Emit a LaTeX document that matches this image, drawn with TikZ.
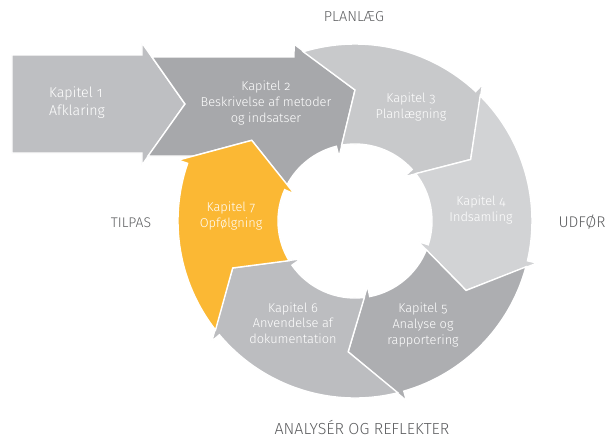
\documentclass[tikz,border=0pt]{standalone}
\usepackage{fontspec}
\setmainfont{Fira Sans Light}[Numbers=OldStyle]
\usepackage{tikz}

\definecolor{kapA}{HTML}{BEBFC2}
\definecolor{kapB}{HTML}{A7A8AB}
\definecolor{kapC}{HTML}{C8C9CB}
\definecolor{kapD}{HTML}{D2D3D5}
\definecolor{kapE}{HTML}{ADAEB1}
\definecolor{kapF}{HTML}{BCBDC0}
\definecolor{kapG}{HTML}{FBB834}
\definecolor{fasegray}{HTML}{5E5F61}

\begin{document}
\begin{tikzpicture}[x=1pt, y=1pt,
    kapitel/.style={draw=white, line width=1.4pt, line join=miter},
    kaptext/.style={text=white, align=center, inner sep=0pt, font=\fontsize{12.8}{15.6}\selectfont},
    fase/.style={text=fasegray, inner sep=0pt, font=\fontsize{14.5}{16}\selectfont}]
    \useasboundingbox (-355,-216) rectangle (253,221);

    \draw [kapitel, fill=kapA] (-343,166) -- (-213,166) -- (-213,178) -- (-170,117) -- (-213,56) -- (-213,68) -- (-343,68) -- cycle;
    \draw [kapitel, fill=kapB] (-203,164) -- (-61,164) -- (109:187) -- (90:131) -- (104:66) -- (104:77) arc[start angle=104, end angle=152, radius=77] -- (142:131) -- (-161.6,65) -- (-207,65) -- (-170,117) -- cycle;
    \draw [kapitel, fill=kapC] (107:177) arc[start angle=107, end angle=47, radius=177] -- (47:187) -- (28:131) -- (42:66) -- (42:77) arc[start angle=42, end angle=100, radius=77] -- (90:131) -- cycle;
    \draw [kapitel, fill=kapD] (45:177) arc[start angle=45, end angle=-13, radius=177] -- (-13:187) -- (-32:131) -- (-18:66) -- (-18:77) arc[start angle=-18, end angle=38, radius=77] -- (28:131) -- cycle;
    \draw [kapitel, fill=kapE] (-15:177) arc[start angle=-15, end angle=-74, radius=177] -- (-74:187) -- (-93:131) -- (-79:66) -- (-79:77) arc[start angle=-79, end angle=-22, radius=77] -- (-32:131) -- cycle;
    \draw [kapitel, fill=kapF] (-76:177) arc[start angle=-76, end angle=-140, radius=177] -- (-140:187) -- (-159:131) -- (-145:66) -- (-145:77) arc[start angle=-145, end angle=-83, radius=77] -- (-93:131) -- cycle;
    \draw [kapitel, fill=kapG] (218:177) arc[start angle=218, end angle=161, radius=177] -- (161:187) -- (142:131) -- (156:66) -- (156:77) arc[start angle=156, end angle=211, radius=77] -- (201:131) -- cycle;

    \node [kaptext, anchor=west, align=left, font=\fontsize{14.2}{18}\selectfont] (kap1) at (-306,118) {Kapitel 1\\Afklaring};
    \node [kaptext] (kap2) at (-89,118) {Kapitel 2\\Beskrivelse af metoder\\og indsatser};
    \node [kaptext] (kap3) at (56,114) {Kapitel 3\\Planlægning};
    \node [kaptext] (kap4) at (126,11) {Kapitel 4\\Indsamling};
    \node [kaptext] (kap5) at (68,-104) {Kapitel 5\\Analyse og\\rapportering};
    \node [kaptext] (kap6) at (-62,-102) {Kapitel 6\\Anvendelse af\\dokumentation};
    \node [kaptext] (kap7) at (-124,5) {Kapitel 7\\Opfølgning};

    \node [fase] (planlaeg) at (-1,204) {PLANLÆG};
    \node [fase, font=\fontsize{15.5}{16}\selectfont] (udfoer) at (227,-1) {UDFØR};
    \node [fase, font=\fontsize{14}{16}\selectfont] (tilpas) at (-224,-2) {TILPAS};
    \node [fase, font=\fontsize{16}{16}\selectfont] (analyser) at (7,-206) {ANALYSÉR OG REFLEKTER};
\end{tikzpicture}
\end{document}
